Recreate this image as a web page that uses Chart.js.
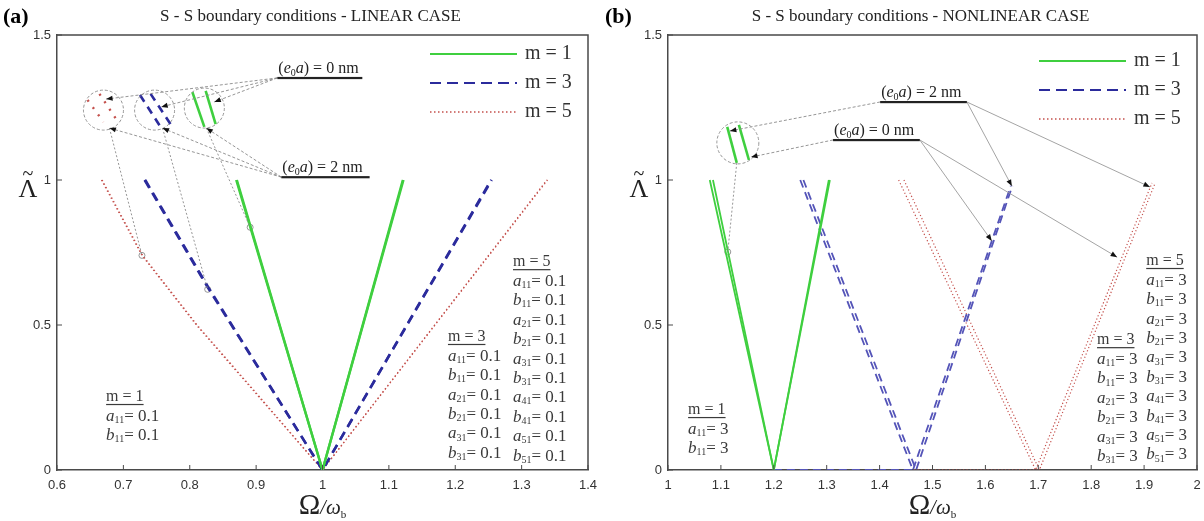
<!DOCTYPE html>
<html>
<head>
<meta charset="utf-8">
<script src="https://cdn.jsdelivr.net/npm/chart.js@4.4.1/dist/chart.umd.min.js"></script>
<style>
html, body { margin: 0; padding: 0; background: #fff; }
#wrap { position: relative; width: 1204px; height: 521px; }
.panel { position: absolute; top: 0; width: 602px; height: 521px; }
</style>
</head>
<body>
<div id="wrap">
  <div class="panel" style="left:0"><canvas id="chartA" width="602" height="521"></canvas></div>
  <div class="panel" style="left:602px"><canvas id="chartB" width="602" height="521"></canvas></div>
</div>
<script>
// ---- panel (a): linear case, a_ij = b_ij = 0.1 ----
const linM1Omega0 = [0.870, 1.000, 1.122];
const linM1Omega2 = [0.871, 1.000, 1.121];
const linM1Lambda = [1.00, 0.00, 1.00];
const linM3Omega0 = [0.732, 0.827, 1.000, 1.255];
const linM3Omega2 = [0.733, 0.828, 1.000, 1.254];
const linM3Lambda = [1.00, 0.63, 0.00, 1.00];
const linM5Omega0 = [0.667, 0.728, 0.810, 0.905, 1.000, 1.339];
const linM5Omega2 = [0.668, 0.729, 0.811, 0.906, 1.000, 1.338];
const linM5Lambda = [1.00, 0.74, 0.50, 0.25, 0.00, 1.00];

// ---- panel (b): nonlinear case, a_ij = b_ij = 3 ----
const nlM1Omega0 = [1.085, 1.200, 1.306];
const nlM1Omega2 = [1.079, 1.200, 1.304];
const nlM1Lambda = [1.00, 0.00, 1.00];
const nlM3Omega0 = [1.250, 1.463, 1.648];
const nlM3Omega2 = [1.256, 1.469, 1.651];
const nlM3Lambda = [1.00, 0.00, 0.98];
const nlM5Omega0 = [1.436, 1.695, 1.915];
const nlM5Omega2 = [1.446, 1.702, 1.921];
const nlM5Lambda = [1.00, 0.00, 0.99];
const nlM3FlatOmega = [1.200, 1.465];
const nlM5FlatOmega = [1.465, 1.700];
const nlFlatLambda = [0, 0];

// axis ticks
const xTicksA = [0.6, 0.7, 0.8, 0.9, 1.0, 1.1, 1.2, 1.3, 1.4];
const xLabelsA = ['0.6', '0.7', '0.8', '0.9', '1', '1.1', '1.2', '1.3', '1.4'];
const xTicksB = [1.0, 1.1, 1.2, 1.3, 1.4, 1.5, 1.6, 1.7, 1.8, 1.9, 2.0];
const xLabelsB = ['1', '1.1', '1.2', '1.3', '1.4', '1.5', '1.6', '1.7', '1.8', '1.9', '2'];
const yTicks = [0, 0.5, 1, 1.5];
const yLabels = ['0', '0.5', '1', '1.5'];

// zoom insets, magnified pieces of the curves [x0, y0, x1, y1]
const linZoomM1 = [[0.804, 1.303, 0.822, 1.183], [0.824, 1.307, 0.839, 1.193]];
const linZoomM3 = [[0.725, 1.293, 0.756, 1.183], [0.741, 1.297, 0.771, 1.193]];
const linZoomM5 = [[0.646, 1.276, 0.670, 1.200], [0.664, 1.297, 0.692, 1.200]];
const nlZoomM1 = [[1.112, 1.183, 1.130, 1.059], [1.134, 1.190, 1.153, 1.069]];
const linZoomCircles = [[0.670, 1.241], [0.747, 1.241], [0.822, 1.248]];
const nlZoomCircles = [[1.132, 1.128]];
const linMarkers = [[0.728, 0.740], [0.827, 0.623], [0.891, 0.837]];
const nlMarkers = [[1.113, 0.752]];

// e0a labels: [text value, underline x0, underline x1, underline y]
const linE0aLabels = [['0', 0.932, 1.060, 1.352], ['2', 0.938, 1.071, 1.010]];
const nlE0aLabels = [['2', 1.401, 1.565, 1.269], ['0', 1.312, 1.476, 1.138]];
// arrows [x0, y0, x1, y1]
const linArrows = [
  [0.932, 1.352, 0.674, 1.279], [0.932, 1.352, 0.757, 1.252], [0.932, 1.352, 0.837, 1.269],
  [0.938, 1.010, 0.679, 1.179], [0.938, 1.010, 0.759, 1.179], [0.938, 1.010, 0.825, 1.179]
];
const linLeaders = [[0.679, 1.179, 0.728, 0.740], [0.759, 1.179, 0.827, 0.623], [0.825, 1.179, 0.891, 0.837]];
const nlArrowsDashed = [[1.401, 1.269, 1.117, 1.169], [1.312, 1.138, 1.157, 1.079]];
const nlArrows = [
  [1.565, 1.269, 1.650, 0.979], [1.565, 1.269, 1.911, 0.976],
  [1.476, 1.138, 1.612, 0.790], [1.476, 1.138, 1.849, 0.734]
];
const nlLeaders = [[1.130, 1.059, 1.113, 0.752]];

// parameter boxes
const legendNames = ['m = 1', 'm = 3', 'm = 5'];
const linParamsM1 = [['a', '11', '0.1'], ['b', '11', '0.1']];
const linParamsM3 = [['a', '11', '0.1'], ['b', '11', '0.1'], ['a', '21', '0.1'], ['b', '21', '0.1'], ['a', '31', '0.1'], ['b', '31', '0.1']];
const linParamsM5 = [['a', '11', '0.1'], ['b', '11', '0.1'], ['a', '21', '0.1'], ['b', '21', '0.1'], ['a', '31', '0.1'],
  ['b', '31', '0.1'], ['a', '41', '0.1'], ['b', '41', '0.1'], ['a', '51', '0.1'], ['b', '51', '0.1']];
const nlParamsM1 = [['a', '11', '3'], ['b', '11', '3']];
const nlParamsM3 = [['a', '11', '3'], ['b', '11', '3'], ['a', '21', '3'], ['b', '21', '3'], ['a', '31', '3'], ['b', '31', '3']];
const nlParamsM5 = [['a', '11', '3'], ['b', '11', '3'], ['a', '21', '3'], ['b', '21', '3'], ['a', '31', '3'],
  ['b', '31', '3'], ['a', '41', '3'], ['b', '41', '3'], ['a', '51', '3'], ['b', '51', '3']];

const SERIF = '"Liberation Serif", "DejaVu Serif", serif';
const SANS = '"Liberation Sans", Arial, sans-serif';
const GREEN = '#3fcf3f';
const BLUE_A = '#2b2b9c';
const BLUE_B = '#5454b8';
const RED = '#c4504c';
const AXIS = '#4a4a4a';

function series(xs, ys) {
  return xs.map((x, i) => ({ x: x, y: ys[i] }));
}
function seg(s) {
  return [{ x: s[0], y: s[1] }, { x: s[2], y: s[3] }];
}
function curve(data, style) {
  return Object.assign({ data: data, showLine: true, pointRadius: 0, fill: false, tension: 0 }, style);
}
function markers(pts) {
  return {
    data: pts.map(p => ({ x: p[0], y: p[1] })), showLine: false, pointRadius: 3,
    pointStyle: 'circle', borderColor: '#8a8a8a', backgroundColor: 'rgba(255,255,255,0)', borderWidth: 0.9
  };
}

const greenA = { borderColor: GREEN, borderWidth: 2.4 };
const blueA = { borderColor: BLUE_A, borderWidth: 2.5, borderDash: [9, 6] };
const redA = { borderColor: RED, borderWidth: 1.3, borderDash: [1.3, 2.7] };
const greenB = { borderColor: GREEN, borderWidth: 1.8 };
const blueB = { borderColor: BLUE_B, borderWidth: 1.8, borderDash: [8, 5] };
const redB = { borderColor: RED, borderWidth: 1.2, borderDash: [1.2, 2.3] };

const datasetsA = [
  curve(series(linM1Omega0, linM1Lambda), greenA),
  curve(series(linM1Omega2, linM1Lambda), greenA),
  curve(series(linM3Omega0, linM3Lambda), blueA),
  curve(series(linM3Omega2, linM3Lambda), blueA),
  curve(series(linM5Omega0, linM5Lambda), redA),
  curve(series(linM5Omega2, linM5Lambda), redA),
  markers(linMarkers)
];
linZoomM1.forEach(s => datasetsA.push(curve(seg(s), { borderColor: GREEN, borderWidth: 2.6 })));
linZoomM3.forEach(s => datasetsA.push(curve(seg(s), { borderColor: BLUE_A, borderWidth: 2.6, borderDash: [8, 6] })));
linZoomM5.forEach(s => datasetsA.push(curve(seg(s), { borderColor: RED, borderWidth: 2.4, borderDash: [2, 7] })));

const datasetsB = [
  curve(series(nlM1Omega0, nlM1Lambda), greenB),
  curve(series(nlM1Omega2, nlM1Lambda), greenB),
  curve(series(nlM3Omega0, nlM3Lambda), blueB),
  curve(series(nlM3Omega2, nlM3Lambda), blueB),
  curve(series(nlM3FlatOmega, nlFlatLambda), blueB),
  curve(series(nlM5Omega0, nlM5Lambda), redB),
  curve(series(nlM5Omega2, nlM5Lambda), redB),
  curve(series(nlM5FlatOmega, nlFlatLambda), redB),
  markers(nlMarkers)
];
nlZoomM1.forEach(s => datasetsB.push(curve(seg(s), { borderColor: GREEN, borderWidth: 2.6 })));

const legendStyles = [
  { color: GREEN, width: 2, dash: [] },
  { color: BLUE_A, width: 1.8, dash: [11, 6] },
  { color: RED, width: 1.5, dash: [1.5, 2.5] }
];

function arrowHead(ctx, x0, y0, x1, y1) {
  const a = Math.atan2(y1 - y0, x1 - x0), s = 7;
  ctx.beginPath();
  ctx.moveTo(x1, y1);
  ctx.lineTo(x1 - s * Math.cos(a - 0.38), y1 - s * Math.sin(a - 0.38));
  ctx.lineTo(x1 - s * Math.cos(a + 0.38), y1 - s * Math.sin(a + 0.38));
  ctx.closePath();
  ctx.fill();
}

function drawE0a(ctx, value, x0, x1, y) {
  ctx.fillStyle = '#222';
  ctx.textBaseline = 'alphabetic';
  ctx.textAlign = 'left';
  let cx = x0 + 1;
  const parts = [['(', '16px '], ['e', 'italic 16px '], ['0', '10px '], ['a', 'italic 16px '], [') = ' + value + ' nm', '16px ']];
  parts.forEach(p => {
    ctx.font = p[1] + SERIF;
    ctx.fillText(p[0], cx, p[0] === '0' ? y - 2 : y - 5);
    cx += ctx.measureText(p[0]).width;
  });
  ctx.fillRect(x0, y - 1, x1 - x0, 2.2);
}

function drawBlock(ctx, x, y, head, rows) {
  const lh = 19.4;
  ctx.fillStyle = '#3a3a3a';
  ctx.textBaseline = 'middle';
  ctx.textAlign = 'left';
  ctx.font = '16px ' + SERIF;
  ctx.fillText(head, x, y);
  ctx.fillRect(x, y + 7, ctx.measureText(head).width, 1.2);
  rows.forEach((r, i) => {
    const yy = y + lh * (i + 1);
    let cx = x;
    ctx.font = 'italic 17px ' + SERIF;
    ctx.fillText(r[0], cx, yy);
    cx += ctx.measureText(r[0]).width;
    ctx.font = '10px ' + SERIF;
    ctx.fillText(r[1], cx, yy + 4);
    cx += ctx.measureText(r[1]).width;
    ctx.font = '17px ' + SERIF;
    ctx.fillText('= ' + r[2], cx, yy);
  });
}

function decor(cfg) {
  return {
    id: 'decor',
    afterDatasetsDraw(chart) {
      const ctx = chart.ctx, xs = chart.scales.x, ys = chart.scales.y, ca = chart.chartArea;
      const P = (x, y) => [xs.getPixelForValue(x), ys.getPixelForValue(y)];
      ctx.save();

      // box and inward ticks
      ctx.strokeStyle = AXIS;
      ctx.lineWidth = 1.5;
      ctx.beginPath();
      ctx.moveTo(ca.left, ca.top); ctx.lineTo(ca.right, ca.top); ctx.lineTo(ca.right, ca.bottom);
      ctx.stroke();
      ctx.lineWidth = 1;
      xs.ticks.forEach(t => {
        const p = xs.getPixelForValue(t.value);
        ctx.beginPath(); ctx.moveTo(p, ca.bottom); ctx.lineTo(p, ca.bottom - 5); ctx.stroke();
      });
      ys.ticks.forEach(t => {
        const p = ys.getPixelForValue(t.value);
        ctx.beginPath(); ctx.moveTo(ca.left, p); ctx.lineTo(ca.left + 5, p); ctx.stroke();
      });

      // zoom circles
      ctx.strokeStyle = '#8a8a8a';
      ctx.lineWidth = 0.9;
      ctx.setLineDash([3, 2]);
      cfg.circles.forEach(c => {
        const [cx, cy] = P(c[0], c[1]);
        ctx.beginPath(); ctx.arc(cx, cy, cfg.circleR, 0, 2 * Math.PI); ctx.stroke();
      });
      // leader lines to the curve markers
      ctx.setLineDash([2, 2]);
      cfg.leaders.forEach(l => {
        const [a, b] = P(l[0], l[1]), [c, d] = P(l[2], l[3]);
        ctx.beginPath(); ctx.moveTo(a, b); ctx.lineTo(c, d); ctx.stroke();
      });
      // arrows
      ctx.fillStyle = '#111';
      const drawArrows = (list, dash, color) => {
        ctx.strokeStyle = color;
        list.forEach(l => {
          const [a, b] = P(l[0], l[1]), [c, d] = P(l[2], l[3]);
          ctx.setLineDash(dash);
          ctx.beginPath(); ctx.moveTo(a, b); ctx.lineTo(c, d); ctx.stroke();
          ctx.setLineDash([]);
          arrowHead(ctx, a, b, c, d);
        });
      };
      drawArrows(cfg.dashedArrows, [3, 2], '#8a8a8a');
      drawArrows(cfg.solidArrows, [], '#9a9a9a');
      ctx.setLineDash([]);

      // e0a labels
      cfg.e0a.forEach(l => {
        const [x0, y] = P(l[1], l[3]);
        drawE0a(ctx, l[0], x0, xs.getPixelForValue(l[2]), y);
      });

      // parameter blocks
      cfg.blocks.forEach(b => {
        const [x, y] = P(b[0], b[1]);
        drawBlock(ctx, x, y, b[2], b[3]);
      });

      // legend
      legendNames.forEach((name, i) => {
        const st = legendStyles[i];
        const y = ca.top + cfg.legendTop + i * 29;
        ctx.strokeStyle = st.color;
        ctx.lineWidth = st.width;
        ctx.setLineDash(st.dash);
        ctx.beginPath(); ctx.moveTo(ca.right - 158, y); ctx.lineTo(ca.right - 71, y); ctx.stroke();
        ctx.setLineDash([]);
        ctx.fillStyle = '#333';
        ctx.font = '20px ' + SERIF;
        ctx.textBaseline = 'middle';
        ctx.textAlign = 'left';
        ctx.fillText(name, ca.right - 63, y);
      });

      // titles
      const mid = (ca.left + ca.right) / 2;
      ctx.fillStyle = '#222';
      ctx.textAlign = 'center';
      ctx.textBaseline = 'middle';
      ctx.font = '17px ' + SERIF;
      ctx.fillText(cfg.title, mid - 12, 17);
      ctx.textAlign = 'left';
      ctx.font = 'bold 22px ' + SERIF;
      ctx.fillStyle = '#000';
      ctx.textBaseline = 'alphabetic';
      ctx.fillText(cfg.tag, 3, 23);

      // y axis title: Lambda tilde
      const yl = ys.getPixelForValue(1);
      ctx.fillStyle = '#222';
      ctx.textAlign = 'center';
      ctx.font = '26px ' + SERIF;
      ctx.fillText('\u039B', ca.left - 29, yl + 17);
      ctx.font = '20px ' + SERIF;
      ctx.fillText('~', ca.left - 29, yl);

      // x axis title: Omega / omega_b
      ctx.textAlign = 'left';
      const pieces = [['\u03A9', '29px ', 0], ['/', 'italic 20px ', 0], ['\u03C9', 'italic 21px ', 0], ['b', '11px ', 4]];
      let w = 0;
      pieces.forEach(p => { ctx.font = p[1] + SERIF; w += ctx.measureText(p[0]).width; });
      let cx = mid - w / 2;
      pieces.forEach(p => {
        ctx.font = p[1] + SERIF;
        ctx.fillText(p[0], cx, 514 + p[2]);
        cx += ctx.measureText(p[0]).width;
      });
      ctx.restore();
    }
  };
}

function makeChart(id, cfg) {
  return new Chart(document.getElementById(id), {
    type: 'scatter',
    data: { datasets: cfg.datasets },
    options: {
      responsive: false,
      animation: false,
      devicePixelRatio: 1,
      layout: { padding: { top: 35, right: cfg.padRight, left: 0, bottom: 0 } },
      plugins: { legend: { display: false }, tooltip: { enabled: false } },
      scales: {
        x: {
          type: 'linear', min: cfg.xMin, max: cfg.xMax,
          afterBuildTicks: s => { s.ticks = cfg.xTicks.map(v => ({ value: v })); },
          afterFit: s => { s.height = 51; s.paddingLeft = 0; s.paddingRight = 0; },
          ticks: {
            callback: (v, i) => cfg.xLabels[i], autoSkip: false, maxRotation: 0,
            color: '#333', padding: 8, font: { family: SANS, size: 13 }
          },
          grid: { drawOnChartArea: false, drawTicks: false },
          border: { color: AXIS, width: 1.5 }
        },
        y: {
          type: 'linear', min: 0, max: 1.5,
          afterBuildTicks: s => { s.ticks = yTicks.map(v => ({ value: v })); },
          afterFit: s => { s.width = cfg.left; s.paddingTop = 0; s.paddingBottom = 0; },
          ticks: {
            callback: (v, i) => yLabels[i], color: '#333', padding: 6,
            font: { family: SANS, size: 13 }
          },
          grid: { drawOnChartArea: false, drawTicks: false },
          border: { color: AXIS, width: 1.5 }
        }
      }
    },
    plugins: [decor(cfg)]
  });
}

makeChart('chartA', {
  datasets: datasetsA, xMin: 0.6, xMax: 1.4, xTicks: xTicksA, xLabels: xLabelsA,
  left: 57, padRight: 14, tag: '(a)', title: 'S - S boundary conditions - LINEAR CASE',
  circles: linZoomCircles, circleR: 20, leaders: linLeaders,
  dashedArrows: linArrows, solidArrows: [], e0a: linE0aLabels, legendTop: 19,
  blocks: [[0.674, 0.252, 'm = 1', linParamsM1], [1.189, 0.459, 'm = 3', linParamsM3], [1.287, 0.717, 'm = 5', linParamsM5]]
});

makeChart('chartB', {
  datasets: datasetsB, xMin: 1.0, xMax: 2.0, xTicks: xTicksB, xLabels: xLabelsB,
  left: 66, padRight: 7, tag: '(b)', title: 'S - S boundary conditions - NONLINEAR CASE',
  circles: nlZoomCircles, circleR: 21, leaders: nlLeaders,
  dashedArrows: nlArrowsDashed, solidArrows: nlArrows, e0a: nlE0aLabels, legendTop: 26,
  blocks: [[1.038, 0.207, 'm = 1', nlParamsM1], [1.811, 0.448, 'm = 3', nlParamsM3], [1.904, 0.721, 'm = 5', nlParamsM5]]
});
</script>
</body>
</html>
